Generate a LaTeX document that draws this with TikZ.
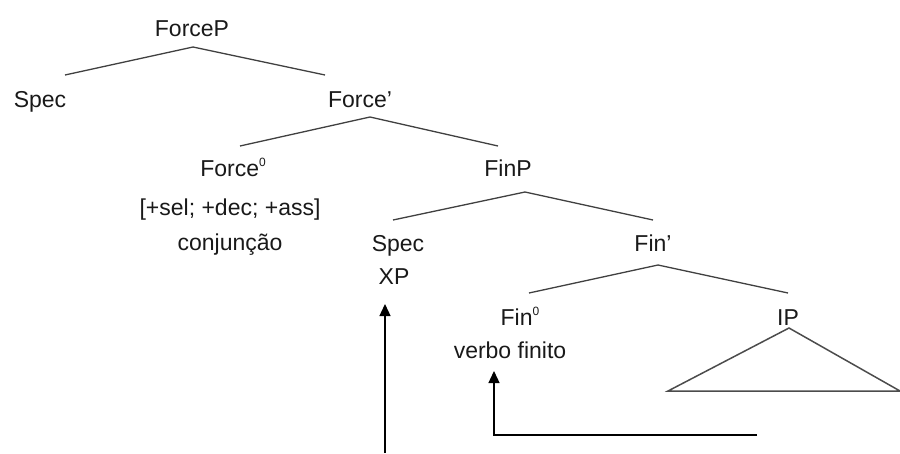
\documentclass[tikz,border=0pt]{standalone}
\usepackage{fontspec}
\setmainfont{Liberation Sans}
\usetikzlibrary{arrows.meta}
\newcommand{\degsup}{\raisebox{0.43em}{\fontsize{12}{12}\selectfont 0}}
\begin{document}
\begin{tikzpicture}[x=1pt,y=-1pt,
  lbl/.style={anchor=base,inner sep=0pt,font=\fontsize{23}{26}\selectfont,text=black!90},
  branch/.style={draw=black!75,line width=1.3pt},
  tri/.style={draw=black!70,line width=1.5pt},
  mv/.style={draw=black,line width=1.3pt,-{Triangle[length=12pt,width=11pt]}}]
\useasboundingbox (0,0) rectangle (900,453);
% labels
\node[lbl] (forceP) at (192,36) {ForceP};
\node[lbl] (spec1) at (40,107) {Spec};
\node[lbl] (forceBar) at (360,107) {Force’};
\node[lbl] (force0) at (233,176) {Force\degsup};
\node[lbl] (feat) at (230,215) {[+sel; +dec; +ass]};
\node[lbl] (conj) at (230,250) {conjunção};
\node[lbl] (finP) at (508,176) {FinP};
\node[lbl] (spec2) at (398,251) {Spec};
\node[lbl] (xp) at (394,284) {XP};
\node[lbl] (finBar) at (653,251) {Fin’};
\node[lbl] (fin0) at (520,325) {Fin\degsup};
\node[lbl] (verbo) at (510,358) {verbo finito};
\node[lbl] (ip) at (788,325) {IP};
% branch points
\coordinate (bForceP) at (193,47);
\coordinate (tSpec1) at (65,75);
\coordinate (tForceBar) at (325,75);
\coordinate (bForceBar) at (370,117);
\coordinate (tForce0) at (240,146);
\coordinate (tFinP) at (498,146);
\coordinate (bFinP) at (525,192);
\coordinate (tSpec2) at (393,220);
\coordinate (tFinBar) at (653,220);
\coordinate (bFinBar) at (658,265);
\coordinate (tFin0) at (529,293);
\coordinate (tIP) at (788,293);
\coordinate (ipApex) at (789,328);
\coordinate (ipL) at (668,391);
\coordinate (ipR) at (900,391);
\draw[branch] (tSpec1) -- (bForceP) -- (tForceBar);
\draw[branch] (tForce0) -- (bForceBar) -- (tFinP);
\draw[branch] (tSpec2) -- (bFinP) -- (tFinBar);
\draw[branch] (tFin0) -- (bFinBar) -- (tIP);
\draw[tri] (ipL) -- (ipApex) -- (ipR) -- cycle;
% movement arrows
\coordinate (a1s) at (385,453);
\coordinate (a1e) at (385,304);
\draw[mv] (a1s) -- (a1e);
\coordinate (a2s) at (757,435);
\coordinate (a2c) at (494,435);
\coordinate (a2e) at (494,371);
\draw[mv] (a2s) -- (a2c) -- (a2e);
\end{tikzpicture}
\end{document}
